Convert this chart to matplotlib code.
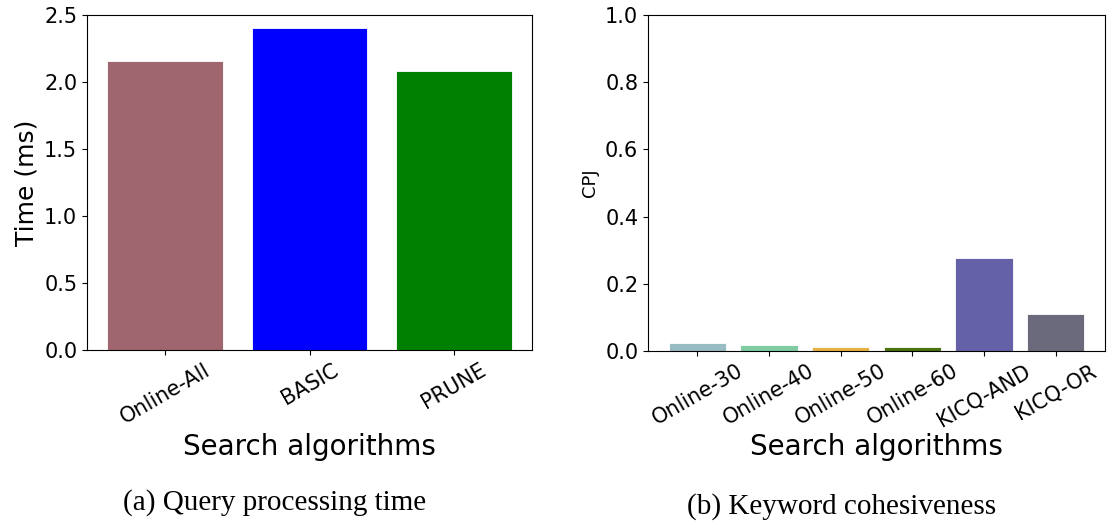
import matplotlib
matplotlib.use('Agg')
import matplotlib.pyplot as plt

# (a) tiempo de procesamiento
algos_a = ['Online-All', 'BASIC', 'PRUNE']
tiempo_ms = [2.155, 2.40, 2.08]
colores_a = ['#a0666f', '#0000ff', '#008000']

# (b) cohesion de palabras clave
algos_b = ['Online-30', 'Online-40', 'Online-50', 'Online-60', 'KICQ-AND', 'KICQ-OR']
cpj = [0.024, 0.017, 0.012, 0.012, 0.277, 0.110]
colores_b = ['#99bbc4', '#80cca2', '#e6b045', '#4a7310', '#6461a8', '#6b6a7c']

fig = plt.figure(figsize=(11.08, 5.24), dpi=100)

ax1 = fig.add_axes([87/1108, 1 - 350/524, 445/1108, 335/524])
ax1.bar(algos_a, tiempo_ms, color=colores_a, edgecolor='white', linewidth=0.6)
ax1.set_ylim(0, 2.5)
ax1.set_ylabel('Time (ms)', fontsize=18)
ax1.set_xlabel('Search algorithms', fontsize=20)
ax1.tick_params(axis='both', labelsize=15)
plt.setp(ax1.get_xticklabels(), rotation=30)

ax2 = fig.add_axes([648/1108, 1 - 351/524, 457/1108, 336/524])
ax2.bar(algos_b, cpj, color=colores_b, edgecolor='white', linewidth=0.6)
ax2.set_ylim(0, 1.0)
ax2.set_ylabel('CPJ', fontsize=13)
ax2.set_xlabel('Search algorithms', fontsize=20, labelpad=2)
ax2.tick_params(axis='both', labelsize=15)
plt.setp(ax2.get_xticklabels(), rotation=30)

fig.text(275/1108, 1 - 503/524, '(a) Query processing time', ha='center', va='center',
         fontsize=21, family='Liberation Serif')
fig.text(842/1108, 1 - 507/524, '(b) Keyword cohesiveness', ha='center', va='center',
         fontsize=21, family='Liberation Serif')

plt.savefig('out.png', dpi=100)
